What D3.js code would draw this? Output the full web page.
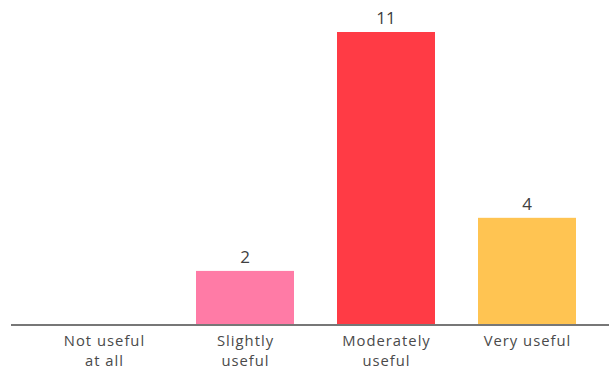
<html>
<script src="https://d3js.org/d3.v7.min.js"></script>
<style>
  body { margin: 0; background: #fff; }
  text { font-family: "Open Sans", sans-serif; fill: #4a4a4a; }
</style>
<body>
<svg width="609" height="370"></svg>
<script>
// chart data
const categories = ["Not useful at all", "Slightly useful", "Moderately useful", "Very useful"];
const labelLines = [["Not useful", "at all"], ["Slightly", "useful"], ["Moderately", "useful"], ["Very useful"]];
const counts = [0, 2, 11, 4];
const colors = ["#ff7ba6", "#ff7ba6", "#ff3b45", "#ffc452"];

const svg = d3.select("svg");

const x = d3.scaleBand()
  .domain(categories)
  .range([33.5, 597.5])
  .paddingInner(0.305)
  .paddingOuter(0.1525);

const y = d3.scaleLinear()
  .domain([0, 11])
  .range([324, 32]);

// bars
svg.append("g")
  .selectAll("rect")
  .data(categories)
  .enter()
  .append("rect")
    .attr("x", d => x(d))
    .attr("y", (d, i) => y(counts[i]))
    .attr("width", x.bandwidth())
    .attr("height", (d, i) => y(0) - y(counts[i]))
    .attr("fill", (d, i) => colors[i]);

// value labels (no label for the empty bar)
svg.append("g")
  .selectAll("text")
  .data(categories.filter((d, i) => counts[i] > 0))
  .enter()
  .append("text")
    .attr("x", d => x(d) + x.bandwidth() / 2)
    .attr("y", d => y(counts[categories.indexOf(d)]) - 8)
    .attr("text-anchor", "middle")
    .style("font-size", "17px")
    .style("font-weight", "500")
    .style("fill", "#404040")
    .text(d => counts[categories.indexOf(d)]);

// baseline
svg.append("line")
  .attr("x1", 11).attr("x2", 609)
  .attr("y1", y(0) + 1).attr("y2", y(0) + 1)
  .attr("stroke", "#777")
  .attr("stroke-width", 2);

// category labels
const lab = svg.append("g")
  .selectAll("text")
  .data(categories)
  .enter()
  .append("text")
    .attr("x", d => x(d) + x.bandwidth() / 2 + 0.5)
    .attr("y", 346)
    .attr("text-anchor", "middle")
    .style("font-size", "14.8px")
    .style("letter-spacing", "1px");
lab.selectAll("tspan")
  .data((d, i) => labelLines[i])
  .enter()
  .append("tspan")
    .attr("x", function() { return this.parentNode.getAttribute("x"); })
    .attr("dy", (d, j) => j === 0 ? 0 : 20)
    .text(d => d);
</script>
</body>
</html>
